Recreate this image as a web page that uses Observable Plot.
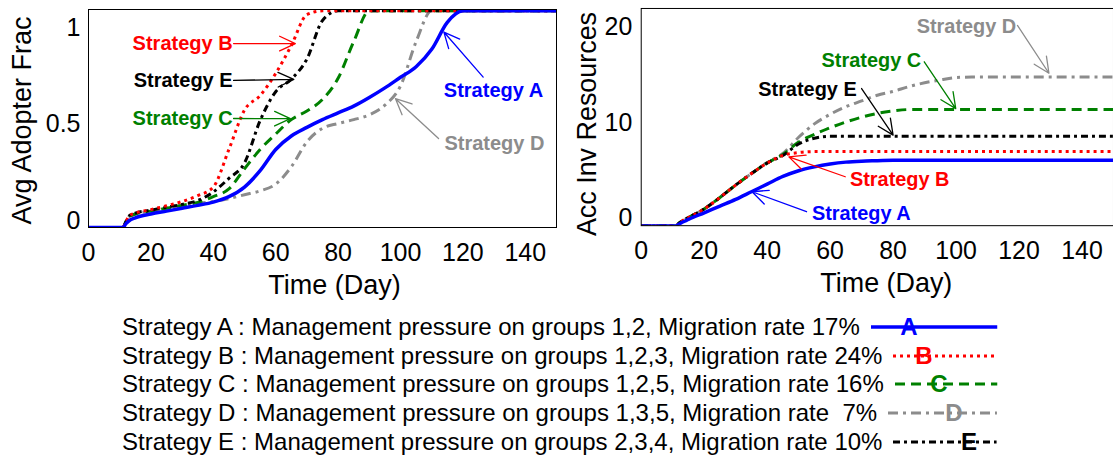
<!DOCTYPE html>
<html><head><meta charset="utf-8">
<script src="https://cdn.jsdelivr.net/npm/d3@7"></script>
<script src="https://cdn.jsdelivr.net/npm/@observablehq/plot@0.6"></script>
<style>
html,body{margin:0;padding:0;background:#fff;overflow:hidden;width:1113px;height:459px;}
body{font-family:"Liberation Sans",Arial,sans-serif;position:relative;}
#left{position:absolute;left:0;top:0;}
#right{position:absolute;left:560px;top:0;}
.row{position:absolute;left:122px;width:875px;height:28px;display:flex;align-items:center;font-size:24px;line-height:28px;color:#000;white-space:pre;}
.row span.txt{flex:none;}
.row svg{flex:1 1 0;min-width:0;width:0;height:28px;margin-left:11px;overflow:visible;}
.letter{position:absolute;top:0;font-weight:bold;font-size:24px;line-height:28px;transform:translateX(-50%);}
</style></head><body>
<div id="left"></div><div id="right"></div>
<div id="legend"></div>
<script>
// ---------- data ----------
const strategies = ["A", "B", "C", "D", "E"];
const days = [0, 11, 12, 13, 15, 20, 25, 30, 35, 40, 45, 50, 55, 60, 65, 70, 75, 80, 85, 90, 95, 100, 105, 110, 115, 120, 130, 140, 150];

// Avg Adopter Frac
const fracA = [-0.035, -0.035, -0.015, 0.0, 0.015, 0.035, 0.05, 0.065, 0.08, 0.097, 0.125, 0.175, 0.26, 0.37, 0.44, 0.485, 0.525, 0.56, 0.595, 0.64, 0.69, 0.745, 0.80, 0.89, 1.03, 1.09, 1.09, 1.09, 1.09];
const fracB = [-0.035, -0.035, -0.005, 0.025, 0.04, 0.058, 0.078, 0.1, 0.13, 0.175, 0.37, 0.575, 0.65, 0.765, 0.91, 1.07, 1.09, 1.09, 1.09, 1.09, 1.09, 1.09, 1.09, 1.09, 1.09, 1.09, 1.09, 1.09, 1.09];
const fracC = [-0.035, -0.035, -0.005, 0.02, 0.035, 0.05, 0.065, 0.08, 0.095, 0.125, 0.165, 0.27, 0.37, 0.45, 0.525, 0.57, 0.63, 0.74, 0.93, 1.09, 1.09, 1.09, 1.09, 1.09, 1.09, 1.09, 1.09, 1.09, 1.09];
const fracD = [-0.035, -0.035, -0.005, 0.02, 0.035, 0.05, 0.065, 0.08, 0.09, 0.1, 0.115, 0.135, 0.155, 0.19, 0.28, 0.41, 0.48, 0.505, 0.525, 0.55, 0.6, 0.7, 0.93, 1.09, 1.09, 1.09, 1.09, 1.09, 1.09];
const fracE = [-0.035, -0.035, -0.005, 0.025, 0.04, 0.055, 0.07, 0.085, 0.105, 0.15, 0.22, 0.30, 0.52, 0.67, 0.735, 0.84, 1.04, 1.09, 1.09, 1.09, 1.09, 1.09, 1.09, 1.09, 1.09, 1.09, 1.09, 1.09, 1.09];

// Acc Inv Resources
const resA = [-0.78, -0.78, -0.6, -0.4, -0.1, 0.6, 1.3, 2.0, 2.8, 3.6, 4.4, 5.0, 5.4, 5.7, 5.9, 6.0, 6.05, 6.1, 6.1, 6.1, 6.1, 6.1, 6.1, 6.1, 6.1, 6.1, 6.1, 6.1, 6.1];
const resB = [-0.78, -0.78, -0.5, -0.25, 0.1, 1.0, 2.2, 3.5, 4.7, 5.8, 6.6, 6.9, 7.0, 7.0, 7.0, 7.0, 7.0, 7.0, 7.0, 7.0, 7.0, 7.0, 7.0, 7.0, 7.0, 7.0, 7.0, 7.0, 7.0];
const resC = [-0.78, -0.78, -0.5, -0.25, 0.1, 1.0, 2.2, 3.5, 4.7, 5.8, 6.7, 8.0, 8.8, 9.5, 10.1, 10.6, 11.0, 11.25, 11.4, 11.4, 11.4, 11.4, 11.4, 11.4, 11.4, 11.4, 11.4, 11.4, 11.4];
const resD = [-0.78, -0.78, -0.5, -0.25, 0.1, 1.0, 2.2, 3.5, 4.7, 5.85, 6.8, 8.5, 9.9, 10.9, 11.7, 12.3, 12.9, 13.3, 13.8, 14.2, 14.5, 14.75, 14.8, 14.8, 14.8, 14.8, 14.8, 14.8, 14.8];
const resE = [-0.78, -0.78, -0.5, -0.25, 0.1, 1.0, 2.2, 3.5, 4.7, 5.8, 6.6, 7.8, 8.4, 8.6, 8.6, 8.6, 8.6, 8.6, 8.6, 8.6, 8.6, 8.6, 8.6, 8.6, 8.6, 8.6, 8.6, 8.6, 8.6];

const xTicks = [0, 20, 40, 60, 80, 100, 120, 140];
const fracTicks = [0, 0.5, 1];
const resTicks = [0, 10, 20];

const legendTexts = [
  "Strategy A : Management pressure on groups 1,2, Migration rate 17%",
  "Strategy B : Management pressure on groups 1,2,3, Migration rate 24%",
  "Strategy C : Management pressure on groups 1,2,5, Migration rate 16%",
  "Strategy D : Management pressure on groups 1,3,5, Migration rate  7%",
  "Strategy E : Management pressure on groups 2,3,4, Migration rate 10%"
];

// ---------- styles ----------
const styles = {
  A: {color: "#0000ff", dash: null, width: 3.5},
  B: {color: "#ff0000", dash: "3,4", width: 3},
  C: {color: "#008000", dash: "10,6", width: 3},
  D: {color: "#8c8c8c", dash: "10,5,3,5", width: 3},
  E: {color: "#000000", dash: "7,4,3,4", width: 3}
};
const font = "Liberation Sans, Arial, sans-serif";

// annotations (data coordinates)
const leftNotes = [
  {s: "B", label: "Strategy B", tx: 46.2, ty: 0.92, anchor: "end", x1: 46.5, y1: 0.92, x2: 66.3, y2: 0.92},
  {s: "E", label: "Strategy E", tx: 46.2, ty: 0.729, anchor: "end", x1: 46.5, y1: 0.729, x2: 65.8, y2: 0.734},
  {s: "C", label: "Strategy C", tx: 46.2, ty: 0.531, anchor: "end", x1: 46.5, y1: 0.531, x2: 64.7, y2: 0.53},
  {s: "A", label: "Strategy A", tx: 129.8, ty: 0.677, anchor: "middle", x1: 126.5, y1: 0.746, x2: 113.9, y2: 0.98},
  {s: "D", label: "Strategy D", tx: 130.1, ty: 0.40, anchor: "middle", x1: 112.2, y1: 0.427, x2: 98.4, y2: 0.634}
];
const rightNotes = [
  {s: "D", label: "Strategy D", tx: 103.3, ty: 20.03, anchor: "middle", x1: 119.5, y1: 20.2, x2: 129.5, y2: 15.2},
  {s: "C", label: "Strategy C", tx: 73.1, ty: 16.55, anchor: "middle", x1: 89.9, y1: 16.4, x2: 99.9, y2: 11.5},
  {s: "E", label: "Strategy E", tx: 52.8, ty: 13.5, anchor: "middle", x1: 70, y1: 13.6, x2: 80, y2: 8.72},
  {s: "B", label: "Strategy B", tx: 82.1, ty: 4.02, anchor: "middle", x1: 64.8, y1: 4.37, x2: 46.9, y2: 6.45},
  {s: "A", label: "Strategy A", tx: 69.9, ty: 0.54, anchor: "middle", x1: 52.5, y1: 0.71, x2: 35.2, y2: 2.8}
];

function rows(values) { return days.map((d, i) => ({day: d, value: values[i]})); }
const drawOrder = ["D", "C", "E", "B", "A"];

function lineMarks(seriesMap) {
  return drawOrder.map(s => Plot.line(rows(seriesMap[s]), {
    x: "day", y: "value", stroke: styles[s].color, strokeWidth: styles[s].width,
    strokeDasharray: styles[s].dash, strokeLinecap: "butt", strokeLinejoin: "round",
    curve: "monotone-x", clip: true
  }));
}
function noteMarks(notes) {
  const out = [];
  notes.forEach(n => {
    out.push(Plot.arrow([n], {x1: "x1", y1: "y1", x2: "x2", y2: "y2",
      stroke: styles[n.s].color, strokeWidth: 1.3, headLength: 20, headAngle: 50}));
    out.push(Plot.text([n], {x: "tx", y: "ty", text: "label", fill: styles[n.s].color,
      textAnchor: n.anchor, fontWeight: "bold", fontSize: 20}));
  });
  return out;
}

const leftPlot = Plot.plot({
  width: 560, height: 300, marginLeft: 88, marginRight: 4, marginTop: 9, marginBottom: 73,
  x: {domain: [0, 150]}, y: {domain: [-0.035, 1.097]},
  style: {fontFamily: font, color: "#000", background: "white", overflow: "visible"},
  marks: [
    Plot.axisX({ticks: xTicks, tickSize: 0, tickPadding: 16, fontSize: 25, label: null}),
    Plot.axisY({ticks: fracTicks, tickSize: 0, tickPadding: 8, fontSize: 25, label: null, tickFormat: d => String(d)}),
    ...lineMarks({A: fracA, B: fracB, C: fracC, D: fracD, E: fracE}),
    Plot.frame({stroke: "#000", strokeWidth: 1}),
    ...noteMarks(leftNotes),
    Plot.text(["Time (Day)"], {text: d => d, frameAnchor: "bottom", lineAnchor: "middle", textAnchor: "middle", dy: 58, dx: 12, fontSize: 27}),
    Plot.text(["Avg Adopter Frac"], {text: d => d, frameAnchor: "left", lineAnchor: "middle", textAnchor: "middle", rotate: -90, dx: -66, dy: 2, fontSize: 27})
  ]
});
document.getElementById("left").appendChild(leftPlot);

const rightPlot = Plot.plot({
  width: 555, height: 300, marginLeft: 81, marginRight: 0, marginTop: 8, marginBottom: 74,
  x: {domain: [0, 150]}, y: {domain: [-0.75, 21.98]},
  style: {fontFamily: font, color: "#000", background: "white", overflow: "visible"},
  marks: [
    Plot.axisX({ticks: xTicks, tickSize: 0, tickPadding: 16, fontSize: 25, label: null}),
    Plot.axisY({ticks: resTicks, tickSize: 0, tickPadding: 9, fontSize: 25, label: null, tickFormat: d => String(d)}),
    ...lineMarks({A: resA, B: resB, C: resC, D: resD, E: resE}),
    Plot.frame({stroke: "#000", strokeWidth: 1}),
    ...noteMarks(rightNotes),
    Plot.text(["Time (Day)"], {text: d => d, frameAnchor: "bottom", lineAnchor: "middle", textAnchor: "middle", dy: 58, dx: 9, fontSize: 27}),
    Plot.text(["Acc Inv Resources"], {text: d => d, frameAnchor: "left", lineAnchor: "middle", textAnchor: "middle", rotate: -90, dx: -54, dy: 7, fontSize: 27})
  ]
});
document.getElementById("right").appendChild(rightPlot);

// ---------- legend ----------
const legend = document.getElementById("legend");
const rowCenters = [327, 355.5, 384, 413, 442];
const letterX = [909, 924, 939, 954, 969];
strategies.forEach((s, i) => {
  const row = document.createElement("div");
  row.className = "row";
  row.style.top = (rowCenters[i] - 14) + "px";
  const span = document.createElement("span");
  span.className = "txt";
  span.textContent = legendTexts[i];
  row.appendChild(span);
  const st = styles[s];
  const svgNS = "http://www.w3.org/2000/svg";
  const svg = document.createElementNS(svgNS, "svg");
  const ln = document.createElementNS(svgNS, "line");
  ln.setAttribute("x1", "0"); ln.setAttribute("x2", "100%");
  ln.setAttribute("y1", "14"); ln.setAttribute("y2", "14");
  ln.setAttribute("stroke", st.color); ln.setAttribute("stroke-width", st.width);
  if (st.dash) ln.setAttribute("stroke-dasharray", st.dash);
  svg.appendChild(ln);
  row.appendChild(svg);
  const letter = document.createElement("span");
  letter.className = "letter";
  letter.style.left = (letterX[i] - 122) + "px";
  letter.style.color = st.color;
  letter.textContent = s;
  row.appendChild(letter);
  legend.appendChild(row);
});
</script>
</body></html>
